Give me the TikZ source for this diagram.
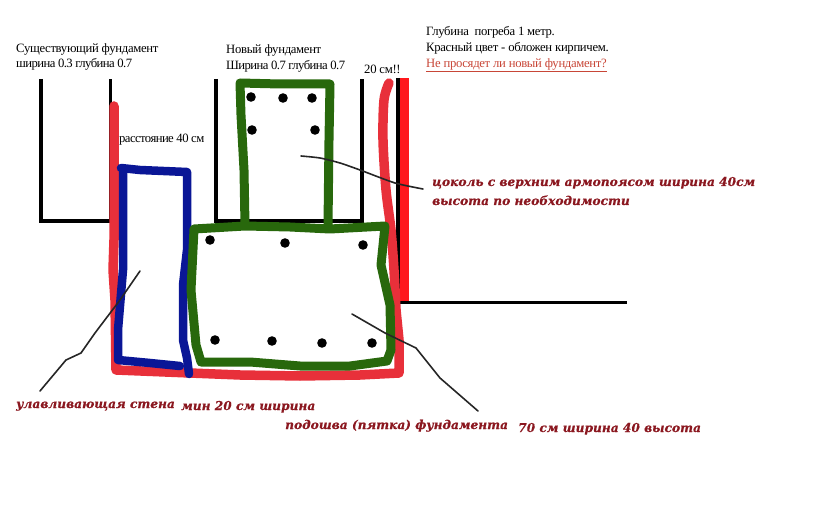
\documentclass[tikz,border=0pt]{standalone}
\usepackage{fontspec}
\setmainfont{Liberation Serif}
\newfontfamily\redfont{DejaVu Serif Bold Italic}[FakeBold=0.5]
\usepackage{tikz}
\usetikzlibrary{positioning}
\definecolor{brickred}{RGB}{255,24,28}
\definecolor{sketchred}{RGB}{232,48,58}
\definecolor{sketchblue}{RGB}{10,22,150}
\definecolor{sketchgreen}{RGB}{40,104,12}
\definecolor{notered}{RGB}{139,24,32}
\definecolor{warnred}{RGB}{200,70,55}
\tikzset{
	wall/.style={line width=3.6pt, line cap=butt, line join=miter},
	brush/.style={line width=#1, line cap=round, line join=round},
	leader/.style={line width=1.6pt, black!85, line cap=round, line join=round},
	rebar/.style={fill=black, draw=none},
	blacktext/.style={anchor=base west, inner sep=0pt, font=\fontsize{12.7}{14}\selectfont\addfontfeatures{LetterSpace=-2.5}},
	tighttext/.style={anchor=base west, inner sep=0pt, font=\fontsize{12.7}{14}\selectfont\addfontfeatures{LetterSpace=-4.5}},
	redtext/.style={anchor=base west, inner sep=0pt, text=notered, font=\redfont\fontsize{12.2}{14}\selectfont}
}

\begin{document}
\begin{tikzpicture}[x=1pt,y=-1pt]
	\useasboundingbox (0,0) rectangle (840,510);

	% existing and new trench
	\draw [wall] (41,79) -- (41,221) -- (110.5,221) -- (110.5,79);
	\draw [wall] (216,79) -- (216,221) -- (362,221) -- (362,79);

	% brick lining of the cellar
	\fill [brickred] (399,78) rectangle (408.5,302);
	\draw [wall] (398,78) -- (398,302.5) -- (627,302.5);

	% red strokes
	\draw [sketchred, brush=9.5pt] (114,106) -- (114,170) -- (114,240) -- (113,270) -- (115,300) -- (116,370) -- (190,373) -- (240,375) -- (300,376) -- (360,375) -- (399,373) -- (399,340) -- (396,310);
	\draw [sketchred, brush=9.5pt] plot [smooth, tension=0.5] coordinates {(389,83) (384,100) (383,140) (386,190) (391,230) (394,270) (396,310)};

	% catch wall
	\draw [sketchblue, brush=8.5pt] (121,168) -- (140,170) -- (187,172) -- (187,215) -- (187,250) -- (183,285) -- (183,340) -- (187,358) -- (189,374);
	\draw [sketchblue, brush=8.5pt] (123,170) -- (123,270) -- (118,330) -- (118,360) -- (150,363) -- (180,366);

	% plinth and footing
	\draw [sketchgreen, brush=9pt] (245,225) -- (244,170) -- (241,115) -- (240,83) -- (280,84) -- (330,84) -- (329,140) -- (328,226);
	\draw [sketchgreen, brush=9pt] (194,229) -- (245,226) -- (290,227) -- (330,229) -- (385,226) -- (381,265) -- (390,305) -- (391,350) -- (387,361) -- (350,366) -- (300,366) -- (250,362) -- (201,362) -- (196,345) -- (191,290) -- cycle;

	% rebars
	\foreach \bx/\by in {251/97, 283/98, 312/98, 252/130, 315/130, 210/240, 285/243, 363/245, 215/340, 272/341, 322/343, 372/343}
		\fill [rebar] (\bx,\by) circle (4.8);

	% leaders
	\draw [leader] plot [smooth, tension=0.4] coordinates {(301,156) (320,158) (340,163) (360,170) (395,183) (423,189)};
	\draw [leader] (140,271) -- (120,300) -- (95,333) -- (81,353) -- (66,360) -- (40,391);
	\draw [leader] (352,314) -- (385,333) -- (416,348) -- (440,378) -- (478,411);

	% labels
	\node [tighttext] (oldwidth) at (16,68) {ширина 0.3 глубина 0.7};
	\node [blacktext] (oldfound) at (16,53) {Существующий фундамент};
	\node [tighttext] (newwidth) at (226,70) {Ширина 0.7 глубина 0.7};
	\node [blacktext] (newfound) at (226,54) {Новый фундамент};
	\node [blacktext] (gaptext) at (364,74) {20 см!!};
	\node [tighttext] (gapwall) at (119,143) {расстояние 40 см};
	\node [blacktext] (cellar) at (426,36) {Глубина\ \ погреба 1 метр.};
	\node [blacktext] (brick) at (426,52) {Красный цвет - обложен кирпичем.};
	\node [blacktext, text=warnred] (warn) at (426,68) {Не просядет ли новый фундамент?};
	\draw [warnred, line width=0.7pt] ([yshift=-3pt]warn.base west) -- ([yshift=-3pt]warn.base east);

	\node [redtext] (plinth) at (432,186) {цоколь с верхним армопоясом ширина 40см};
	\node [redtext] (plinthh) at (432,205) {высота по необходимости};
	\node [redtext] (catch) at (16,408) {улавливающая стена};
	\node [redtext] (catchw) at (181,410) {мин 20 см ширина};
	\node [redtext] (foot) at (285,429) {подошва (пятка) фундамента};
	\node [redtext] (footw) at (518,432) {70 см ширина 40 высота};
\end{tikzpicture}
\end{document}
